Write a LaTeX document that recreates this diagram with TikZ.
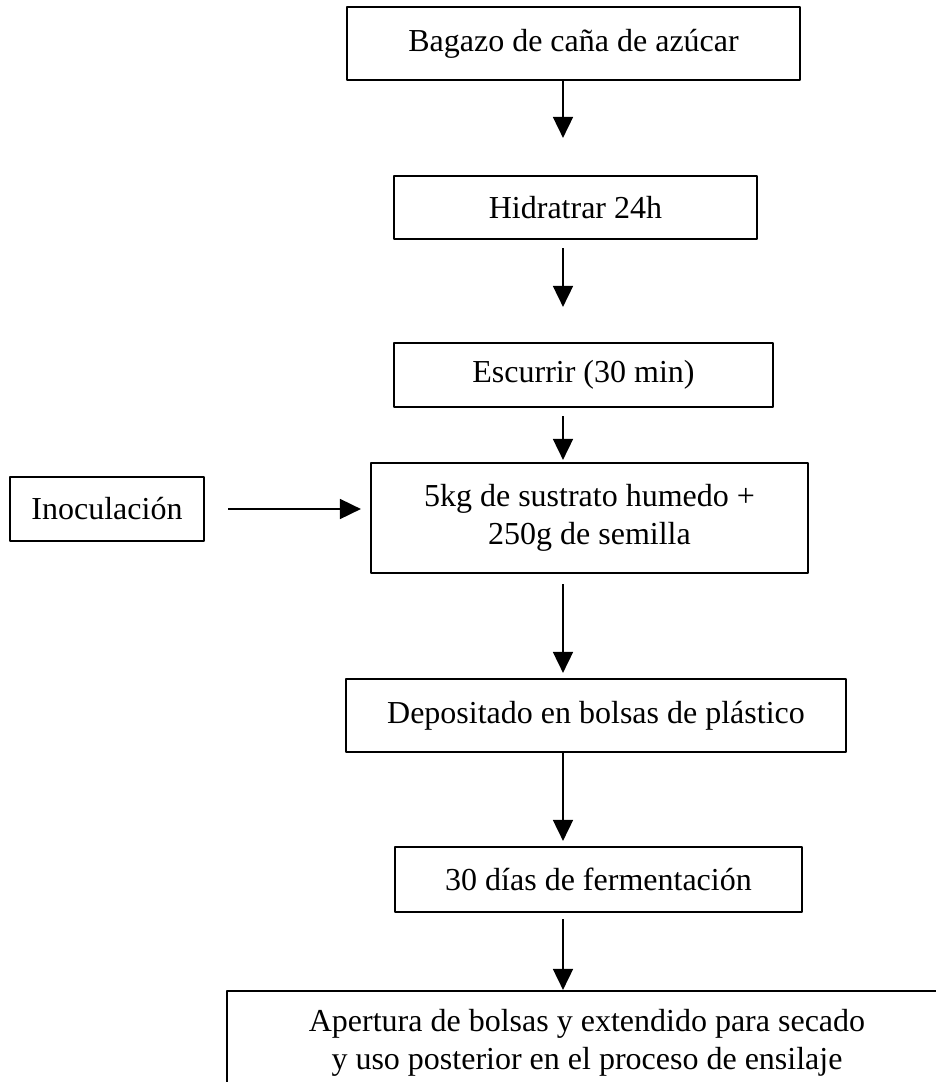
\documentclass[tikz,border=0pt]{standalone}
\usepackage{fontspec}
\setmainfont{Liberation Serif}
\usetikzlibrary{arrows.meta}
\tikzset{caja/.style={draw, line width=1.1pt, inner sep=0pt, align=center,
    font=\fontsize{16pt}{19pt}\selectfont}}
\tikzset{flecha/.style={-{Triangle[length=10.5pt,width=10pt]}, line width=0.9pt}}

\begin{document}
\begin{tikzpicture}[x=0.5pt, y=-0.5pt, line join = round]
\useasboundingbox (0,0) rectangle (936,1082);
\clip (0,0) rectangle (936,1082);
\coordinate (eje) at (563,0);

\node[caja, minimum width=226.5pt, minimum height=36.5pt] (bagazo) at (573.5,43.5) {Bagazo de caña de azúcar};
\node[caja, minimum width=181.5pt, minimum height=31.5pt] (hidratar) at (575.5,207.5) {Hidratrar 24h};
\node[caja, minimum width=189.5pt, minimum height=32pt] (escurrir) at (583.5,375) {Escurrir (30 min)};
\node[caja, minimum width=218.5pt, minimum height=55pt] (sustrato) at (589.5,518) {5kg de sustrato humedo +\\250g de semilla};
\node[caja, minimum width=97pt, minimum height=32pt] (inocula) at (107,509) {Inoculación};
\node[caja, minimum width=250pt, minimum height=36.5pt] (deposito) at (596,715.5) {Depositado en bolsas de plástico};
\node[caja, minimum width=203.5pt, minimum height=32.5pt] (fermenta) at (598.5,879.5) {30 días de fermentación};
\node[caja, minimum width=360pt, minimum height=52pt] (apertura) at (587,1043) {Apertura de bolsas y extendido para secado\\y uso posterior en el proceso de ensilaje};

\draw[flecha, shorten >=18.5pt] (bagazo.south -| eje) -- (hidratar.north -| eje);
\draw[flecha, shorten <=4pt, shorten >=17.5pt] (hidratar.south -| eje) -- (escurrir.north -| eje);
\draw[flecha, shorten <=4pt, shorten >=1pt] (escurrir.south -| eje) -- (sustrato.north -| eje);
\draw[flecha, shorten <=11.5pt, shorten >=4.5pt] (inocula.east) -- (inocula.east -| sustrato.west);
\draw[flecha, shorten <=5pt, shorten >=2.5pt] (sustrato.south -| eje) -- (deposito.north -| eje);
\draw[flecha, shorten >=2.5pt] (deposito.south -| eje) -- (fermenta.north -| eje);
\draw[flecha, shorten <=3pt] (fermenta.south -| eje) -- (apertura.north -| eje);

\end{tikzpicture}
\end{document}
